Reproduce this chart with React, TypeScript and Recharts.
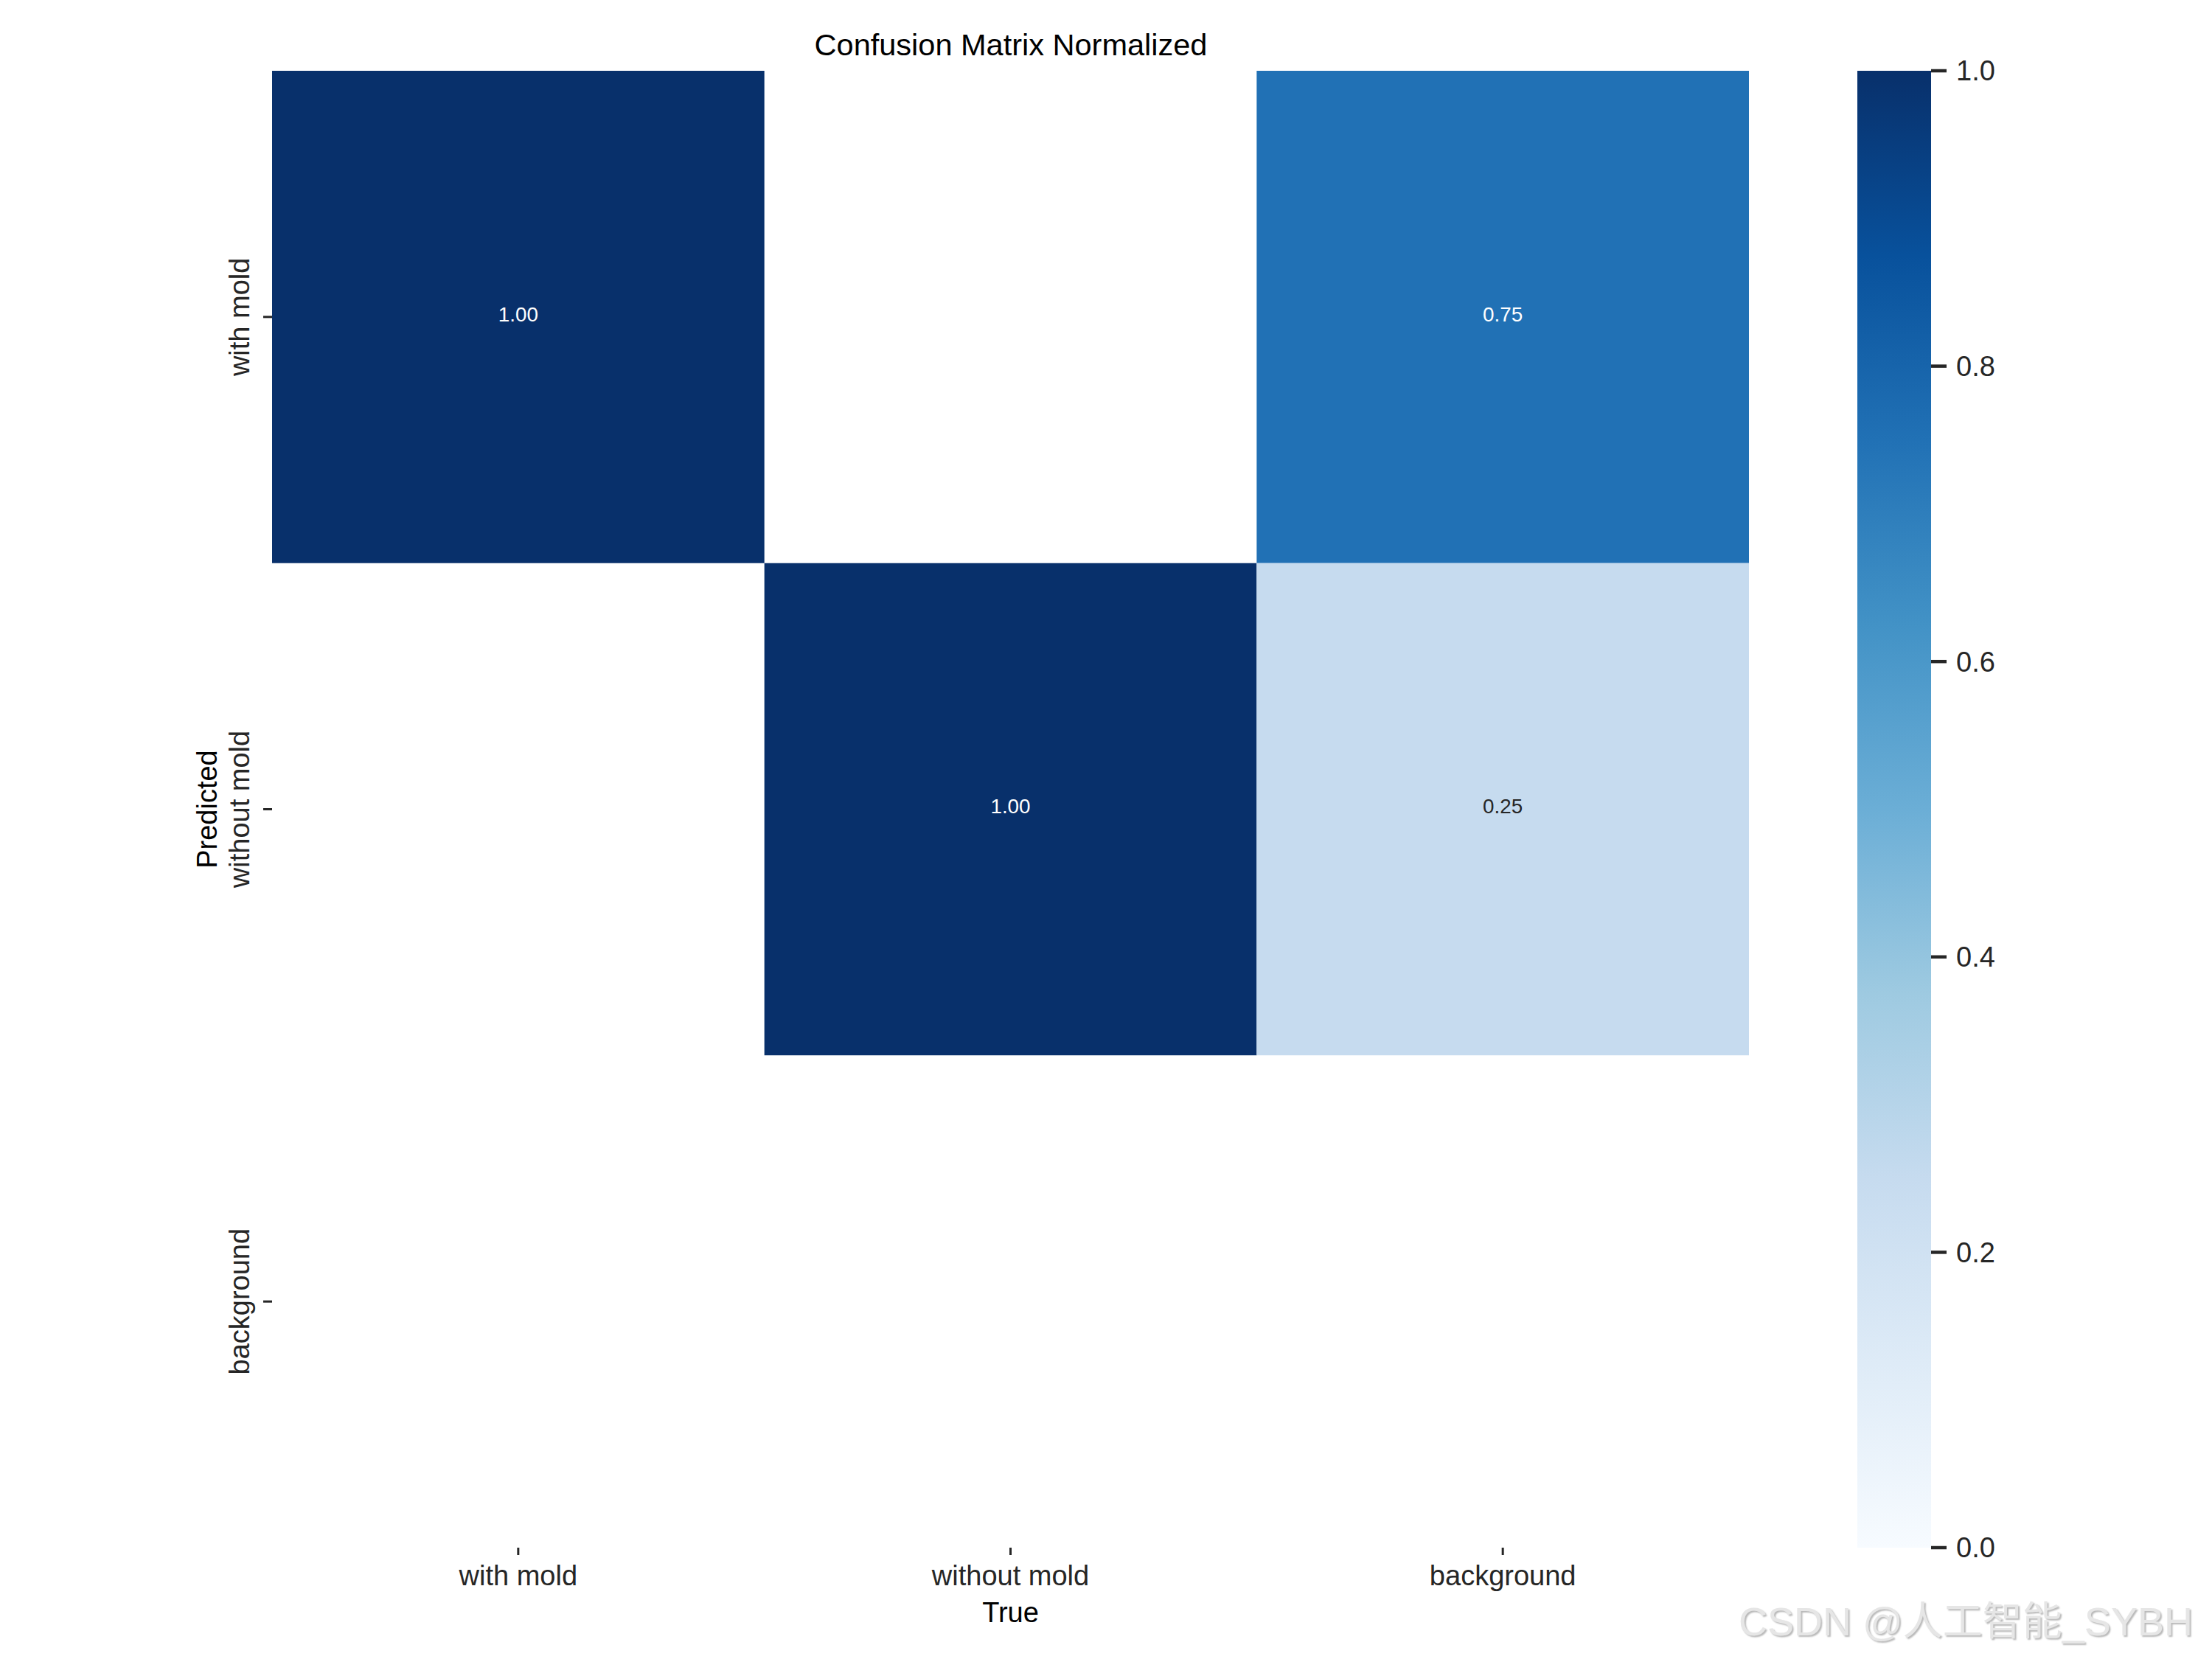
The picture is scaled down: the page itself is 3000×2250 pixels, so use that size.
import React from 'react';
import {
  ComposedChart,
  Scatter,
  XAxis,
  YAxis,
  ReferenceArea,
} from 'recharts';

// rows = predicted, columns = true
const CLASS_NAMES = ['with mold', 'without mold', 'background'];
const MATRIX = [
  [1.0, 0.0, 0.75],
  [0.0, 1.0, 0.25],
  [0.0, 0.0, 0.0],
];
const CELL_TICKS = [0.5, 1.5, 2.5];
const COLORBAR_TICKS = [0, 0.2, 0.4, 0.6, 0.8, 1.0];
// matplotlib "Blues" colormap stops
const BLUES = [
  '#f7fbff',
  '#deebf7',
  '#c6dbef',
  '#9ecae1',
  '#6baed6',
  '#4292c6',
  '#2171b5',
  '#08519c',
  '#08306b',
];

const FONT = '"Liberation Sans", Arial, sans-serif';
const TEXT = '#262626';

const hexToRgb = (hex: string) => [
  parseInt(hex.slice(1, 3), 16),
  parseInt(hex.slice(3, 5), 16),
  parseInt(hex.slice(5, 7), 16),
];

const blues = (v: number) => {
  const t = Math.max(0, Math.min(1, v)) * (BLUES.length - 1);
  const i = Math.min(Math.floor(t), BLUES.length - 2);
  const f = t - i;
  const a = hexToRgb(BLUES[i]);
  const b = hexToRgb(BLUES[i + 1]);
  const c = a.map((ch, k) => Math.round(ch + (b[k] - ch) * f));
  return `rgb(${c[0]}, ${c[1]}, ${c[2]})`;
};

const cells = MATRIX.flatMap((row, r) =>
  row.map((value, c) => ({ x: c + 0.5, y: r + 0.5, row: r, col: c, value }))
);

const YTick = (props: any) => {
  const { x, y, payload } = props;
  const cx = x - 30;
  return (
    <text
      x={cx}
      y={y}
      transform={`rotate(-90, ${cx}, ${y})`}
      textAnchor="middle"
      dominantBaseline="central"
      fontSize={38}
      fill={TEXT}
    >
      {CLASS_NAMES[Math.floor(payload.value)]}
    </text>
  );
};

const App = () => {
  return (
    <div
      style={{
        position: 'absolute',
        left: 0,
        top: 0,
        width: 3000,
        height: 2250,
        background: '#fff',
        fontFamily: FONT,
        overflow: 'hidden',
      }}
    >
      <div
        style={{
          position: 'absolute',
          left: 370,
          top: 40,
          width: 2002,
          textAlign: 'center',
          fontSize: 41.5,
          lineHeight: 1,
          color: '#000',
          whiteSpace: 'nowrap',
        }}
      >
        Confusion Matrix Normalized
      </div>

      {/* heatmap */}
      <div style={{ position: 'absolute', left: 0, top: 0 }}>
        <ComposedChart
          width={2450}
          height={2250}
          margin={{ top: 96, right: 78, left: 169, bottom: 51 }}
        >
          <XAxis
            type="number"
            dataKey="x"
            domain={[0, 3]}
            ticks={CELL_TICKS}
            interval={0}
            tickFormatter={(v) => CLASS_NAMES[Math.floor(v)]}
            axisLine={false}
            tickLine={{ stroke: TEXT, strokeWidth: 3 }}
            tickSize={10}
            tickMargin={14}
            height={100}
            tick={{ fontSize: 38, fill: TEXT }}
            label={{
              content: (p: any) => {
                const vb = p.viewBox;
                return (
                  <text
                    x={vb.x + vb.width / 2}
                    y={vb.y + 88}
                    textAnchor="middle"
                    dominantBaseline="central"
                    fontSize={38}
                    fill="#000"
                  >
                    True
                  </text>
                );
              },
            }}
          />
          <YAxis
            type="number"
            dataKey="y"
            domain={[0, 3]}
            reversed
            ticks={CELL_TICKS}
            interval={0}
            axisLine={false}
            tickLine={{ stroke: TEXT, strokeWidth: 3 }}
            tickSize={12}
            tickMargin={2}
            width={200}
            tick={(props: any) => <YTick {...props} />}
            label={{
              content: (p: any) => {
                const vb = p.viewBox;
                const lx = vb.x + vb.width - 88;
                const ly = vb.y + vb.height / 2;
                return (
                  <text
                    x={lx}
                    y={ly}
                    transform={`rotate(-90, ${lx}, ${ly})`}
                    textAnchor="middle"
                    dominantBaseline="central"
                    fontSize={38}
                    fill="#000"
                  >
                    Predicted
                  </text>
                );
              },
            }}
          />
          {cells
            .filter((c) => c.value > 0.005)
            .map((c) => (
              <ReferenceArea
                key={`${c.row}-${c.col}`}
                x1={c.col}
                x2={c.col + 1}
                y1={c.row}
                y2={c.row + 1}
                fill={blues(c.value)}
                fillOpacity={1}
                stroke="none"
                label={{
                  value: c.value.toFixed(2),
                  position: 'center',
                  fill: c.value > 0.5 ? '#ffffff' : TEXT,
                  fontSize: 27.8,
                  dy: -4,
                }}
              />
            ))}
          <Scatter data={cells} shape={() => <g />} isAnimationActive={false} />
        </ComposedChart>
      </div>

      {/* colorbar */}
      <div style={{ position: 'absolute', left: 2500, top: 0 }}>
        <ComposedChart
          width={400}
          height={2250}
          margin={{ top: 96, right: 0, left: 19, bottom: 151 }}
        >
          <defs>
            <linearGradient id="bluesBar" x1="0" y1="1" x2="0" y2="0">
              {BLUES.map((col, i) => (
                <stop key={i} offset={i / (BLUES.length - 1)} stopColor={col} />
              ))}
            </linearGradient>
          </defs>
          <XAxis type="number" dataKey="x" domain={[0, 1]} hide height={0} />
          <YAxis
            type="number"
            dataKey="y"
            orientation="right"
            domain={[0, 1]}
            ticks={COLORBAR_TICKS}
            interval={0}
            tickFormatter={(v) => v.toFixed(1)}
            axisLine={false}
            tickLine={{ stroke: TEXT, strokeWidth: 4.5 }}
            tickSize={21}
            tickMargin={13}
            width={281}
            tick={{ fontSize: 38, fill: TEXT }}
          />
          <ReferenceArea
            x1={0}
            x2={1}
            y1={0}
            y2={1}
            fill="url(#bluesBar)"
            fillOpacity={1}
            stroke="none"
          />
          <Scatter
            data={[{ x: 0.5, y: 0.5 }]}
            shape={() => <g />}
            isAnimationActive={false}
          />
        </ComposedChart>
      </div>

      <div
        style={{
          position: 'absolute',
          left: 2358,
          top: 2172,
          fontSize: 54,
          lineHeight: 1,
          whiteSpace: 'nowrap',
          color: '#e6e6e6',
          textShadow: '2px 2px 2px rgba(0,0,0,0.28)',
          fontFamily: '"Liberation Sans", "Noto Sans CJK SC", sans-serif',
        }}
      >
        CSDN @人工智能_SYBH
      </div>
    </div>
  );
};

export default App;
